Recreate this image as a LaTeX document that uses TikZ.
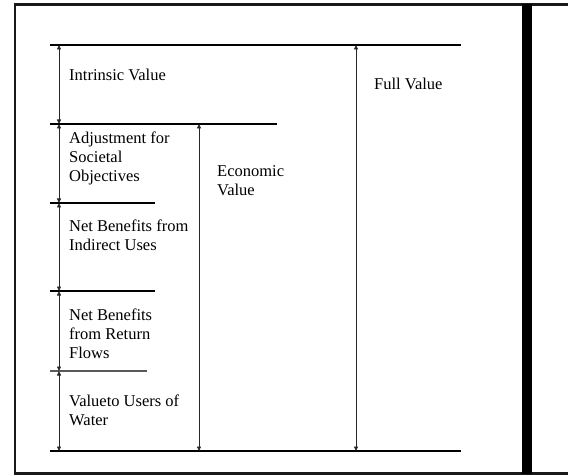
\documentclass[tikz,border=0pt]{standalone}
\usepackage{fontspec}
\setmainfont{Liberation Serif}
\usetikzlibrary{arrows.meta}
\tikzset{
  hline/.style={line width=1.7pt, black},
  thinhline/.style={line width=1.2pt, black!65},
  tip/.tip={Triangle[length=4.5pt,width=4pt]},
  dim/.style={line width=0.8pt, black!85, tip-tip},
  lbl/.style={anchor=base west, inner sep=0pt, align=left, font=\fontsize{16.5}{19}\selectfont},
  frame/.style={line width=2.2pt, black!90}
}
\begin{document}
\begin{tikzpicture}[x=1pt,y=-1pt]
\useasboundingbox (0,0) rectangle (568,476);
% frame
\draw[frame] (568,4.5) -- (15,4.5) -- (15,473.5) -- (568,473.5);
\fill[black] (521.7,4.5) rectangle (531.7,473.5);
% level coordinates
\coordinate (L1a) at (50,45);   \coordinate (L1b) at (461,45);
\coordinate (L2a) at (50,124);  \coordinate (L2b) at (277,124);
\coordinate (L3a) at (50,203);  \coordinate (L3b) at (155,203);
\coordinate (L4a) at (50,291);  \coordinate (L4b) at (155,291);
\coordinate (L5a) at (50,371);  \coordinate (L5b) at (147,371);
\coordinate (L6a) at (50,451);  \coordinate (L6b) at (461,451);
\draw[hline] (L1a) -- (L1b);
\draw[hline] (L2a) -- (L2b);
\draw[hline] (L3a) -- (L3b);
\draw[hline] (L4a) -- (L4b);
\draw[thinhline] (L5a) -- (L5b);
\draw[hline] (L6a) -- (L6b);
% arrow endpoints
\coordinate (s1) at (59,45);
\coordinate (s2) at (59,124);
\coordinate (s3) at (59,203);
\coordinate (s4) at (59,291);
\coordinate (s5) at (59,371);
\coordinate (s6) at (59,451);
\coordinate (e1) at (199,124);
\coordinate (e2) at (199,451);
\coordinate (f1) at (356,45);
\coordinate (f2) at (356,451);
\draw[dim] (s1) -- (s2);
\draw[dim] (s2) -- (s3);
\draw[dim] (s3) -- (s4);
\draw[dim] (s4) -- (s5);
\draw[dim] (s5) -- (s6);
\draw[dim] (e1) -- (e2);
\draw[dim] (f1) -- (f2);
% labels (base = baseline of last line)
\node[lbl] (intr) at (69,81) {Intrinsic Value};
\node[lbl] (adj) at (69,182) {Adjustment for\\Societal\\Objectives};
\node[lbl] (econ) at (217,196) {Economic\\Value};
\node[lbl] (ind) at (69,250) {Net Benefits from\\Indirect Uses};
\node[lbl] (ret) at (69,358.5) {Net Benefits\\from Return\\Flows};
\node[lbl] (users) at (69,425.5) {Valueto Users of\\Water};
\node[lbl] (full) at (374,90) {Full Value};
\end{tikzpicture}
\end{document}
